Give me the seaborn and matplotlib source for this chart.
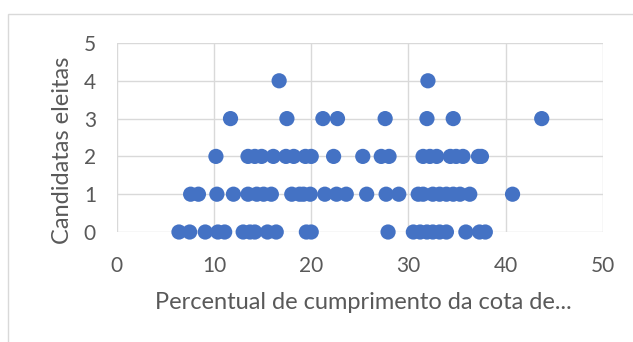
"""Scatter of elected women candidates vs. gender quota compliance."""

import matplotlib.pyplot as plt
import pandas as pd
import seaborn as sns
from matplotlib.patches import Rectangle

# Set figure aesthetics
sns.set_theme(style="white")
plt.rcParams["font.family"] = ["Lato", "DejaVu Sans"]

# Percentual de cumprimento da cota, grouped by number of elected candidates
pct_0 = [6.4, 7.5, 9.1, 10.4, 11.1, 13.0, 13.7, 14.2, 15.5, 16.4, 19.5, 20.0,
         27.9, 30.5, 31.2, 31.9, 32.5, 33.2, 33.9, 35.9, 37.3, 37.9]
pct_1 = [7.6, 8.4, 10.3, 12.0, 13.5, 14.4, 15.1, 15.9, 18.0, 18.8, 19.2, 19.9,
         21.4, 22.6, 23.6, 25.7, 27.7, 29.0, 31.0, 31.5, 32.5, 33.2, 33.9,
         34.6, 35.3, 36.3, 40.7]
pct_2 = [10.2, 13.5, 14.2, 14.9, 16.1, 17.4, 18.2, 19.4, 20.0, 22.3, 25.3,
         27.2, 28.0, 31.5, 32.2, 32.9, 34.3, 34.9, 35.6, 37.2, 37.5]
pct_3 = [11.7, 17.5, 21.2, 22.7, 27.6, 31.9, 34.6, 43.7]
pct_4 = [16.7, 32.0]

x_ticks = [0, 10, 20, 30, 40, 50]
y_ticks = [0, 1, 2, 3, 4, 5]

BLUE = "#4472C4"
GRID = "#d9d9d9"
TEXT = "#595959"


def build_frame():
    """Flatten the per-count lists into a tidy DataFrame."""
    records = []
    for count, vals in enumerate([pct_0, pct_1, pct_2, pct_3, pct_4]):
        for v in vals:
            records.append({"percentual": v, "eleitas": count})
    return pd.DataFrame(records)


def main():
    df = build_frame()

    fig = plt.figure(figsize=(6.33, 3.42), dpi=100)
    ax = fig.add_axes([0.1844, 0.3216, 0.7682, 0.5527])

    # chart area border (Excel style)
    fig.patches.append(
        Rectangle((8 / 633, -0.1), 1.1, 1 - 14 / 342 + 0.1,
                  transform=fig.transFigure, fill=False,
                  edgecolor=GRID, linewidth=1.0)
    )

    sns.scatterplot(
        data=df,
        x="percentual",
        y="eleitas",
        color=BLUE,
        s=120,
        edgecolor="none",
        clip_on=False,
        zorder=3,
        ax=ax,
    )

    ax.set_xlim(0, 50)
    ax.set_ylim(0, 5)
    ax.set_xticks(x_ticks)
    ax.set_yticks(y_ticks)
    ax.grid(True, color=GRID, linewidth=1.0, zorder=0)
    ax.set_axisbelow(True)
    for side in ["top", "right", "bottom", "left"]:
        ax.spines[side].set_visible(False)

    ax.tick_params(axis="both", length=0, labelsize=15, colors=TEXT)
    ax.tick_params(axis="x", pad=17)
    ax.tick_params(axis="y", pad=15)

    ax.set_xlabel("Percentual de cumprimento da cota de...",
                  fontsize=17, color=TEXT, va="center")
    ax.xaxis.set_label_coords(0.508, -0.373)
    ax.set_ylabel("Candidatas eleitas", fontsize=17, color=TEXT, va="center")
    ax.yaxis.set_label_coords(-0.112, 0.434)

    fig.savefig("out.png", dpi=100, facecolor="white")


if __name__ == "__main__":
    main()
